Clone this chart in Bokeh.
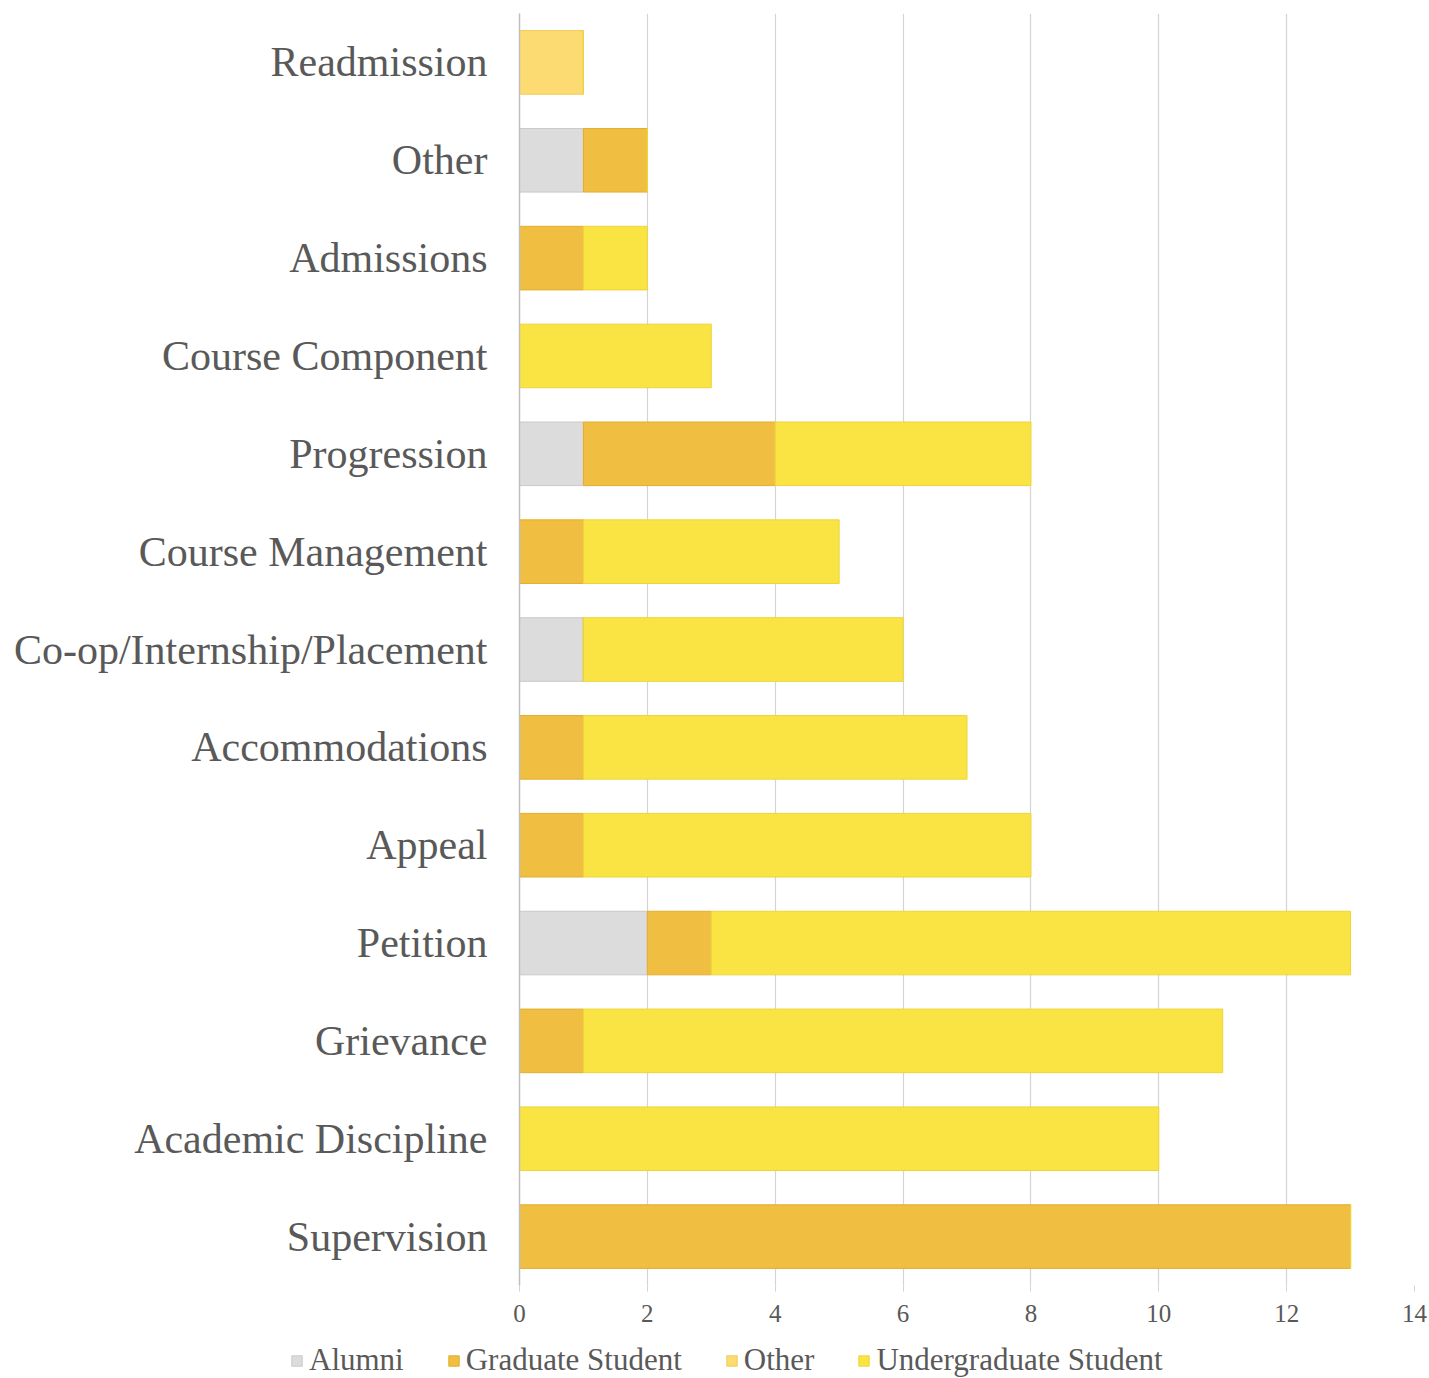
from bokeh.plotting import figure
from bokeh.layouts import column
from bokeh.models import FactorRange, Range1d, Legend, LegendItem, FixedTicker, ColumnDataSource
from bokeh.embed import file_html
from bokeh.resources import INLINE

categories = ["Supervision", "Academic Discipline", "Grievance", "Petition", "Appeal",
              "Accommodations", "Co-op/Internship/Placement", "Course Management",
              "Progression", "Course Component", "Admissions", "Other", "Readmission"]
series = ["Alumni", "Graduate Student", "Other", "Undergraduate Student"]
alumni = [0, 0, 0, 2, 0, 0, 1, 0, 1, 0, 0, 1, 0]
graduate = [13, 0, 1, 1, 1, 1, 0, 1, 3, 0, 1, 1, 0]
other = [0, 0, 0, 0, 0, 0, 0, 0, 0, 0, 0, 0, 1]
undergraduate = [0, 10, 10, 10, 7, 6, 5, 4, 4, 3, 1, 0, 0]
ticks = [0, 2, 4, 6, 8, 10, 12, 14]

colors = ["#DCDCDC", "#F0BE41", "#FCDC72", "#FAE443"]
borders = ["#C9C9C9", "#E3AE2E", "#EFCB5C", "#EDD437"]

src = ColumnDataSource(dict(cat=categories, Alumni=alumni, **{"Graduate Student": graduate},
                            Other=other, **{"Undergraduate Student": undergraduate}))

FONT = "Liberation Serif"
TEXT = "#595959"

p = figure(y_range=FactorRange(*categories, range_padding=0), x_range=Range1d(0, 14),
           frame_width=895, frame_height=1272, output_backend="svg", toolbar_location=None,
           min_border_left=519, min_border_top=13, min_border_right=15, min_border_bottom=52,
           outline_line_color=None, background_fill_color="white", border_fill_color="white")
p.frame_align = False

p.hbar_stack(series, y="cat", height=0.65, source=src, color=colors,
             line_color=borders, line_width=1)

p.xgrid.ticker = FixedTicker(ticks=ticks)
p.xgrid.grid_line_color = "#D4D4D4"
p.xgrid.grid_line_width = 1.2
p.ygrid.grid_line_color = None

p.xaxis.ticker = FixedTicker(ticks=ticks)
p.xaxis.axis_line_color = None
p.xaxis.major_tick_line_color = "#D4D4D4"
p.xaxis.major_tick_out = 6
p.xaxis.major_tick_in = 0
p.xaxis.minor_tick_line_color = None
p.xaxis.major_label_text_font = FONT
p.xaxis.major_label_text_font_size = "25px"
p.xaxis.major_label_text_color = TEXT
p.xaxis.major_label_standoff = 13

p.yaxis.axis_line_color = "#BFBFBF"
p.yaxis.axis_line_width = 1.5
p.yaxis.major_tick_line_color = None
p.yaxis.minor_tick_line_color = None
p.yaxis.major_label_text_font = FONT
p.yaxis.major_label_text_font_size = "42px"
p.yaxis.major_label_text_color = TEXT
p.yaxis.major_label_standoff = 26

# Legend strip below the chart
lg = figure(width=1429, height=41, x_range=Range1d(0, 1429), y_range=Range1d(0, 41),
            output_backend="svg", toolbar_location=None, min_border=0,
            outline_line_color=None, background_fill_color="white", border_fill_color="white")
lg.frame_align = False
lg.xaxis.visible = False
lg.yaxis.visible = False
lg.grid.visible = False
dummies = [lg.hbar(y=[-100], left=[0], right=[1], height=1, color=c, line_color=b)
           for c, b in zip(colors, borders)]

legend = Legend(items=[LegendItem(label=s, renderers=[r]) for s, r in zip(series, dummies)],
                orientation="horizontal", location=(290, 0),
                label_text_font=FONT, label_text_font_size="31px", label_text_color=TEXT,
                glyph_width=13, glyph_height=13, label_standoff=6, spacing=43,
                label_height=34, padding=0, margin=0, border_line_color=None,
                background_fill_alpha=0)
lg.add_layout(legend, "center")

open("out.html", "w").write(file_html(column(p, lg, spacing=0), INLINE))
